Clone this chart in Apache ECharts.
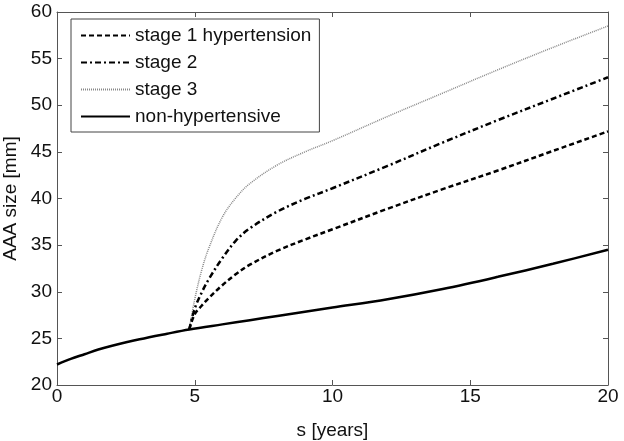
<!DOCTYPE html>
<html>
<head>
<meta charset="utf-8">
<script src="https://cdn.jsdelivr.net/npm/echarts@6/dist/echarts.min.js"></script>
<style>html,body{margin:0;padding:0;background:#fff}#c{width:624px;height:441px}</style>
</head>
<body>
<div id="c"></div>
<script>
var seriesNames = ['stage 1 hypertension', 'stage 2', 'stage 3', 'non-hypertensive'];

var sBase = [0, 0.5, 1, 1.5, 2, 3, 4, 4.8, 6, 7, 8, 10, 12, 14, 16, 18, 20];
var nonHyper = [22.2, 22.8, 23.3, 23.8, 24.2, 24.9, 25.5, 25.95, 26.5, 26.95, 27.4, 28.3, 29.2, 30.3, 31.6, 33.0, 34.5];

var sStage = [4.8, 5, 5.25, 5.5, 6, 6.5, 7, 8, 9, 10, 12, 14, 16, 18, 20];
var stage1 = [25.95, 27.6, 28.5, 29.3, 30.7, 31.9, 32.9, 34.4, 35.6, 36.7, 38.9, 41.0, 43.0, 45.1, 47.2];
var stage2 = [25.95, 28.2, 29.9, 31.3, 33.6, 35.5, 36.8, 38.6, 39.95, 41.1, 43.5, 46.0, 48.4, 50.7, 53.0];
var stage3 = [25.95, 29.2, 32.3, 34.6, 38.0, 40.1, 41.6, 43.6, 45.0, 46.2, 48.8, 51.3, 53.8, 56.2, 58.5];

var xTicks = [0, 5, 10, 15, 20];
var yTicks = [20, 25, 30, 35, 40, 45, 50, 55, 60];

function pairs(xs, ys) { return xs.map(function (x, i) { return [x, ys[i]]; }); }

var FONT = 'Liberation Sans';
var FS = 19;
var axisColor = '#555';

function tickAxis(extra) {
  var base = {
    type: 'value',
    axisLine: { show: true, onZero: false, lineStyle: { color: axisColor, width: 1 } },
    axisTick: { show: true, inside: true, length: 5, lineStyle: { color: axisColor } },
    splitLine: { show: false }
  };
  for (var k in extra) base[k] = extra[k];
  return base;
}

var chart = echarts.init(document.getElementById('c'), null, { renderer: 'canvas' });
chart.setOption({
  animation: false,
  backgroundColor: '#fff',
  textStyle: { fontFamily: FONT },
  grid: { left: 57, right: 16, top: 12, bottom: 56, containLabel: false, outerBoundsMode: 'none' },
  legend: {
    orient: 'vertical',
    left: 71, top: 19,
    padding: [7, 8, 6, 9],
    itemWidth: 49, itemHeight: 14, itemGap: 8,
    borderColor: '#444', borderWidth: 1,
    backgroundColor: '#fff',
    itemStyle: { opacity: 0 },
    textStyle: { fontFamily: FONT, fontSize: FS, color: '#111' },
    data: seriesNames
  },
  xAxis: [
    tickAxis({ min: 0, max: 20, interval: 5,
      name: 's [years]', nameLocation: 'middle', nameGap: 36,
      nameTextStyle: { fontFamily: FONT, fontSize: FS, color: '#111' },
      axisLabel: { fontFamily: FONT, fontSize: FS, color: '#111', margin: 2,
        formatter: function (v) { return xTicks.indexOf(v) >= 0 ? String(v) : ''; } } }),
    tickAxis({ min: 0, max: 20, interval: 5, position: 'top', axisLabel: { show: false } })
  ],
  yAxis: [
    tickAxis({ min: 20, max: 60, interval: 5,
      name: 'AAA size [mm]', nameLocation: 'middle', nameGap: 29,
      nameTextStyle: { fontFamily: FONT, fontSize: FS, color: '#111' },
      axisLabel: { fontFamily: FONT, fontSize: FS, color: '#111', margin: 5,
        formatter: function (v) { return yTicks.indexOf(v) >= 0 ? String(v) : ''; } } }),
    tickAxis({ min: 20, max: 60, interval: 5, position: 'right', axisLabel: { show: false } })
  ],
  series: [
    { name: seriesNames[0], type: 'line', smooth: 0.35, symbol: 'none', z: 3,
      data: pairs(sStage, stage1),
      lineStyle: { color: '#000', width: 2.5, type: [5, 3] }, itemStyle: { color: '#000' } },
    { name: seriesNames[1], type: 'line', smooth: 0.35, symbol: 'none', z: 3,
      data: pairs(sStage, stage2),
      lineStyle: { color: '#000', width: 2.5, type: [6, 3, 2, 3] }, itemStyle: { color: '#000' } },
    { name: seriesNames[2], type: 'line', smooth: 0.35, symbol: 'none', z: 2,
      data: pairs(sStage, stage3),
      lineStyle: { color: '#888', width: 1.5, type: [1, 1] }, itemStyle: { color: '#888' } },
    { name: seriesNames[3], type: 'line', smooth: 0.35, symbol: 'none', z: 4,
      data: pairs(sBase, nonHyper),
      lineStyle: { color: '#000', width: 2.5, type: 'solid' }, itemStyle: { color: '#000' } }
  ]
});
</script>
</body>
</html>
